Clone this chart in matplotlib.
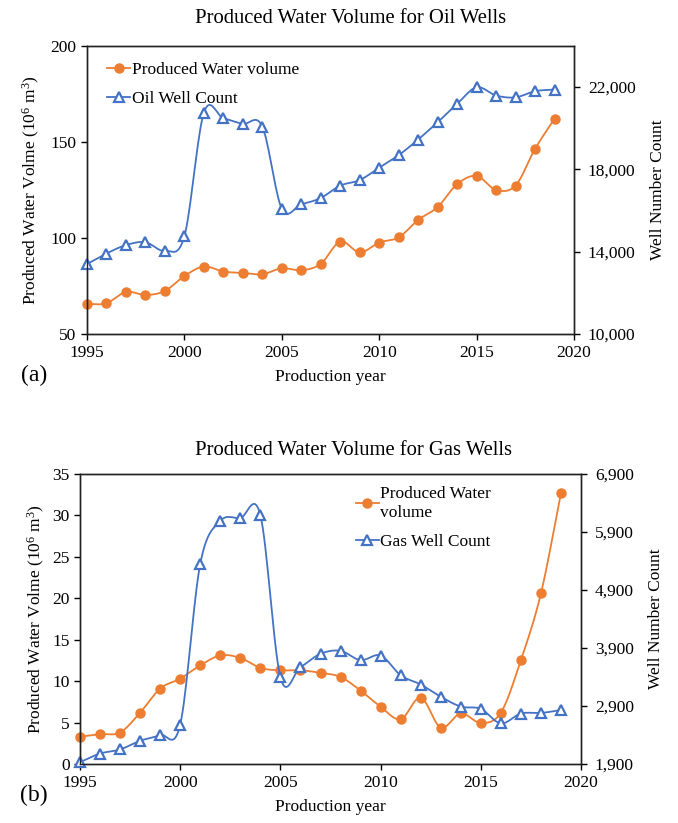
import numpy as np
import matplotlib
matplotlib.use("Agg")
import matplotlib.pyplot as plt
from matplotlib.ticker import FuncFormatter

plt.rcParams['font.family'] = ['Liberation Serif', 'DejaVu Serif']
plt.rcParams['mathtext.fontset'] = 'custom'
plt.rcParams['mathtext.rm'] = 'Liberation Serif'
plt.rcParams['mathtext.it'] = 'Liberation Serif:italic'

ORANGE = '#ED7D31'
BLUE = '#4472C4'

years = list(range(1995, 2020))

# oil wells
oil_water = [65.6, 66.0, 71.9, 70.3, 72.4, 80.2, 85.1, 82.5, 81.8, 81.1, 84.2, 83.2, 86.5,
             98.1, 92.5, 97.6, 100.3, 109.4, 116.1, 128.0, 132.3, 125.0, 127.3, 146.4, 162.1]
oil_wells = [13400, 13910, 14320, 14460, 14040, 14750, 20750, 20490, 20210, 20080, 16090,
             16300, 16610, 17210, 17480, 18080, 18690, 19450, 20290, 21180, 21990, 21590,
             21500, 21800, 21880]

# gas wells
gas_water = [3.3, 3.6, 3.8, 6.2, 9.1, 10.3, 11.9, 13.1, 12.8, 11.6, 11.3, 11.3, 11.0,
             10.5, 8.85, 6.9, 5.4, 8.0, 4.4, 6.1, 4.95, 6.2, 12.55, 20.6, 32.7]
gas_wells = [1930, 2080, 2150, 2300, 2400, 2580, 5350, 6090, 6140, 6190, 3395, 3570, 3800,
             3850, 3690, 3770, 3430, 3270, 3060, 2890, 2850, 2600, 2770, 2780, 2830]


def smooth(x, y, n=16):
    # catmull-rom curve through the points, like Excel's smoothed line
    x = np.asarray(x, float)
    y = np.asarray(y, float)
    px = np.concatenate([[2 * x[0] - x[1]], x, [2 * x[-1] - x[-2]]])
    py = np.concatenate([[2 * y[0] - y[1]], y, [2 * y[-1] - y[-2]]])
    t = np.linspace(0, 1, n, endpoint=False)
    xs, ys = [], []
    for i in range(1, len(px) - 2):
        for p, out in ((px, xs), (py, ys)):
            p0, p1, p2, p3 = p[i - 1], p[i], p[i + 1], p[i + 2]
            out.extend(0.5 * (2 * p1 + (-p0 + p2) * t + (2 * p0 - 5 * p1 + 4 * p2 - p3) * t ** 2
                              + (-p0 + 3 * p1 - 3 * p2 + p3) * t ** 3))
    xs.append(x[-1])
    ys.append(y[-1])
    return xs, ys


def panel(rect, water, wells, ylim, yticks, rlim, rticks, well_label, water_label, leg_loc,
          tag, tag_xy, lpad):
    ax = fig.add_axes(rect)
    ax2 = ax.twinx()
    sx, sy = smooth(years, water)
    ax.plot(sx, sy, color=ORANGE, lw=1.3, clip_on=False)
    ax.plot(years, water, color=ORANGE, marker='o', ms=6.5, ls='none', clip_on=False)
    sx, sy = smooth(years, wells)
    ax2.plot(sx, sy, color=BLUE, lw=1.3, clip_on=False)
    ax2.plot(years, wells, color=BLUE, marker='^', ms=7.5, mfc='white', mew=1.6,
             ls='none', clip_on=False)
    lh1 = plt.Line2D([], [], color=ORANGE, lw=1.3, marker='o', ms=6.5)
    lh2 = plt.Line2D([], [], color=BLUE, lw=1.3, marker='^', ms=7.5, mfc='white', mew=1.6)
    ax.set_xlim(1995, 2020)
    ax.set_xticks(range(1995, 2021, 5))
    ax.set_ylim(*ylim)
    ax.set_yticks(yticks)
    ax2.set_ylim(*rlim)
    ax2.set_yticks(rticks)
    ax2.yaxis.set_major_formatter(FuncFormatter(lambda v, p: f'{int(v):,}'))
    for a in (ax, ax2):
        a.tick_params(labelsize=12.5, direction='out', length=4, width=1, colors='black')
        for s in a.spines.values():
            s.set_linewidth(1.0)
            s.set_color('#222222')
    ax.tick_params(axis='x', pad=4)
    ax2.tick_params(axis='y', pad=6)
    ax.set_ylabel('Produced Water Volme (10$^{6}$ m$^{3}$)', fontsize=12.5, labelpad=lpad)
    ax2.set_ylabel('Well Number Count', fontsize=12.5, labelpad=10)
    ax.set_xlabel('Production year', fontsize=12.5, labelpad=6)
    ax2.legend([lh1, lh2], [water_label, well_label], frameon=False, fontsize=12.5,
               handlelength=1.3, handletextpad=0.1, labelspacing=0.75, **leg_loc)
    fig.text(tag_xy[0], tag_xy[1], tag, fontsize=17, ha='center', va='center')
    return ax


fig = plt.figure(figsize=(6.78, 8.23), dpi=100)

panel([0.1283, 0.5942, 0.7183, 0.35], oil_water, oil_wells, (50, 200), [50, 100, 150, 200],
      (10000, 24000), [10000, 14000, 18000, 22000], 'Oil Well Count', 'Produced Water volume',
      dict(loc='upper left', bbox_to_anchor=(0.01, 1.0)), '(a)', (0.05, 0.544), 6)
fig.text(0.517, 0.978, 'Produced Water Volume for Oil Wells', fontsize=14.9, ha='center', va='center')

panel([0.118, 0.0717, 0.739, 0.3524], gas_water, gas_wells, (0, 35), list(range(0, 36, 5)),
      (1900, 6900), list(range(1900, 6901, 1000)), 'Gas Well Count', 'Produced Water\nvolume',
      dict(loc='upper left', bbox_to_anchor=(0.52, 1.012)), '(b)', (0.05, 0.034), 4)
fig.text(0.522, 0.453, 'Produced Water Volume for Gas Wells', fontsize=14.9, ha='center', va='center')

fig.savefig('out.png', dpi=100)
